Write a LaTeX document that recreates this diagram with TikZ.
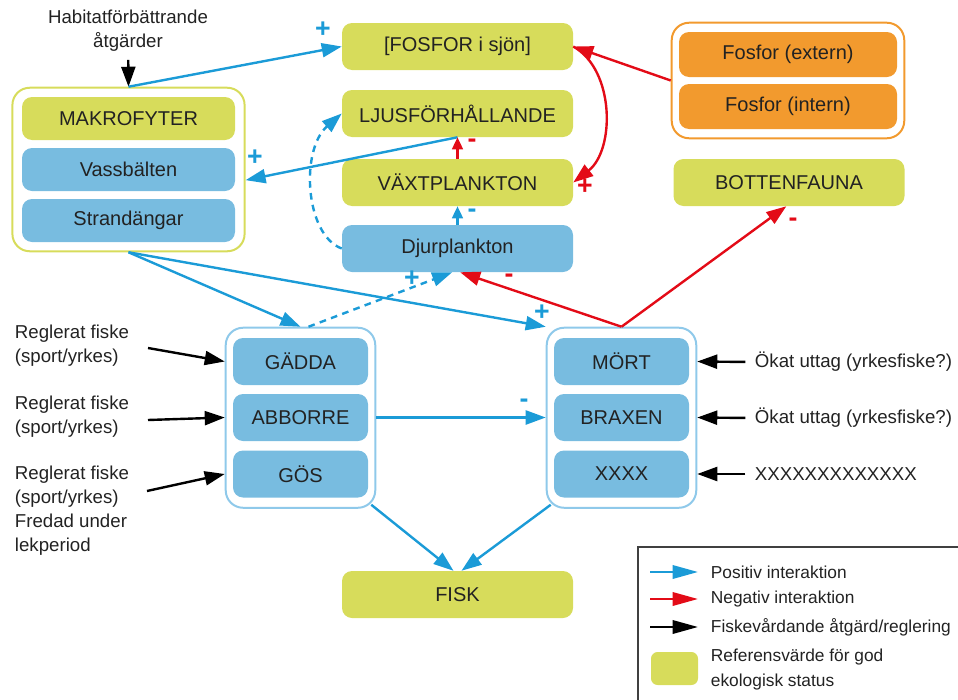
\documentclass[tikz,border=0pt]{standalone}
\usepackage{fontspec}
\setmainfont{Liberation Sans}
\usetikzlibrary{positioning,fit,calc,arrows.meta}
\definecolor{refgreen}{HTML}{D7DC5B}
\definecolor{boxblue}{HTML}{78BCE0}
\definecolor{fosforange}{HTML}{F29A2E}
\definecolor{lineblue}{HTML}{1B9BD7}
\definecolor{linered}{HTML}{E30B17}
\definecolor{frameblue}{HTML}{8FC9EA}
\definecolor{ink}{HTML}{222222}

\begin{document}
\begin{tikzpicture}[x=0.75pt,y=-0.75pt,
    font=\fontsize{15}{18}\selectfont, text=ink,
    box/.style={rounded corners=7.5pt, minimum width=173.25pt, minimum height=35.25pt, inner sep=0pt},
    refbox/.style={box, fill=refgreen},
    bluebox/.style={box, fill=boxblue},
    makrobox/.style={box, minimum width=159.75pt, minimum height=32.25pt},
    fosbox/.style={box, fill=fosforange, minimum width=163.5pt, minimum height=33.75pt},
    fishbox/.style={box, fill=boxblue, minimum width=101.25pt},
    groupframe/.style={rounded corners=13pt, line width=1.5pt, inner sep=0pt},
    note/.style={font=\fontsize{14}{18}\selectfont, inner sep=2pt},
    legnote/.style={note, font=\fontsize{13}{18.75}\selectfont},
    sign/.style={font=\bfseries\fontsize{20}{20}\selectfont, inner sep=0pt},
    posarrow/.style={draw=lineblue, line width=1.8pt, arrows={-Triangle[length=15pt,width=10.5pt]}},
    negarrow/.style={posarrow, draw=linered},
    fixarrow/.style={posarrow, draw=black},
    shortarrow/.style={arrows={-Triangle[length=9pt,width=8pt]}},
    legarrow/.style={arrows={-Triangle[length=19pt,width=10pt]}},
    dashline/.style={dash pattern=on 5pt off 4pt},
    legframe/.style={draw=black!75, line width=0.8pt}
  ]
  \useasboundingbox (0,0) rectangle (958,700);

  \node[refbox] (fosfor) at (457.5,46.5) {[FOSFOR i sjön]};
  \node[refbox] (ljus) at (457.5,113.5) {LJUSFÖRHÅLLANDE};
  \node[refbox] (vaxt) at (457.5,182.5) {VÄXTPLANKTON};
  \node[bluebox] (djur) at (457.5,248.5) {Djurplankton};
  \node[refbox] (fisk) at (457.5,594.5) {FISK};
  \node[refbox] (botten) at (789,182.5) {BOTTENFAUNA};

  \node[makrobox, fill=refgreen] (makro) at (128.5,118.5) {MAKROFYTER};
  \node[makrobox, fill=boxblue] (vass) at (128.5,169.5) {Vassbälten};
  \node[makrobox, fill=boxblue] (strand) at (128.5,220.5) {Strandängar};
  \node[groupframe, draw=refgreen, fit=(makro)(strand), inner xsep=7pt, inner ysep=6.75pt] (makrogrp) {};

  \node[fosbox] (extern) at (788,54.5) {Fosfor (extern)};
  \node[fosbox] (intern) at (788,106.5) {Fosfor (intern)};
  \node[groupframe, draw=fosforange, fit=(extern)(intern), inner xsep=5.25pt, inner ysep=6.75pt] (fosgrp) {};

  \node[fishbox] (gadda) at (300.5,361.5) {GÄDDA};
  \node[fishbox] (abborre) at (300.5,417.5) {ABBORRE};
  \node[fishbox] (gos) at (300.5,474) {GÖS};
  \node[groupframe, draw=frameblue, fit=(gadda)(gos), inner xsep=5.25pt, inner ysep=7.5pt] (rovfisk) {};

  \node[fishbox] (mort) at (621.5,361.5) {MÖRT};
  \node[fishbox] (braxen) at (621.5,417.5) {BRAXEN};
  \node[fishbox] (xxxx) at (621.5,474) {XXXX};
  \node[groupframe, draw=frameblue, fit=(mort)(xxxx), inner xsep=5.25pt, inner ysep=7.5pt] (vitfisk) {};

  \node[note, align=center] (habitat) at (128,31) {Habitatförbättrande\\åtgärder};
  \node[note, align=left, anchor=west] (regl1) at (12,345.5) {Reglerat fiske\\(sport/yrkes)};
  \node[note, align=left, anchor=west] (regl2) at (12,417) {Reglerat fiske\\(sport/yrkes)};
  \node[note, align=left, anchor=west] (regl3) at (12,511) {Reglerat fiske\\(sport/yrkes)\\Fredad under\\lekperiod};
  \node[note, anchor=west] (okat1) at (752,362) {Ökat uttag (yrkesfiske?)};
  \node[note, anchor=west] (okat2) at (752,418) {Ökat uttag (yrkesfiske?)};
  \node[note, anchor=west] (okat3) at (752,474) {XXXXXXXXXXXXX};

  \coordinate (r1) at (148,348);
  \coordinate (r2) at (148,420);
  \coordinate (r3) at (147,491);

  \draw[fixarrow, shorten <=4pt] (habitat) -- (makrogrp.north);
  \draw[posarrow] (makrogrp.north) -- (fosfor.west);
  \draw[posarrow] (ljus.south) -- ([yshift=-8pt]makrogrp.east);
  \draw[negarrow, shortarrow] (vaxt.north) -- (ljus.south);
  \draw[posarrow, shortarrow] (djur.north) -- (vaxt.south);
  \draw[posarrow, dashline] (djur.west) .. controls (305,235) and (300,150) .. (ljus.west);
  \draw[negarrow] (fosgrp.west) -- (fosfor.east);
  \draw[negarrow] (fosfor.east) .. controls (615,70) and (615,150) .. (vaxt.east);
  \draw[posarrow] (makrogrp.south) -- (rovfisk.north);
  \draw[posarrow] (makrogrp.south) -- (vitfisk.north west);
  \draw[posarrow, dashline] ([xshift=6pt]rovfisk.north) -- ([xshift=-4pt]djur.south);
  \draw[negarrow] (vitfisk.north) -- ([xshift=2pt]djur.south);
  \draw[negarrow] (vitfisk.north) -- ([xshift=-2pt]botten.south);
  \draw[posarrow] (rovfisk.east |- abborre) -- (vitfisk.west |- braxen);
  \draw[posarrow] ($(rovfisk.south east)+(-5,-4)$) -- ([xshift=-3pt]fisk.north);
  \draw[posarrow] ($(vitfisk.south west)+(5,-4)$) -- ([xshift=3pt]fisk.north);

  \draw[fixarrow] (r1) -- (rovfisk.west |- gadda);
  \draw[fixarrow] (r2) -- (rovfisk.west |- abborre);
  \draw[fixarrow] (r3) -- (rovfisk.west |- gos);
  \draw[fixarrow, shorten <=5pt] (okat1.west) -- (vitfisk.east |- mort);
  \draw[fixarrow, shorten <=5pt] (okat2.west) -- (vitfisk.east |- braxen);
  \draw[fixarrow, shorten <=5pt] (okat3.west) -- (vitfisk.east |- xxxx);

  \node[sign, text=lineblue] (s1) at (323,30) {+};
  \node[sign, text=lineblue] (s2) at (255,158) {+};
  \node[sign, text=linered] (s3) at (472,143) {-};
  \node[sign, text=lineblue] (s4) at (472,213) {-};
  \node[sign, text=linered] (s5) at (585,187) {+};
  \node[sign, text=lineblue] (s6) at (412,279) {+};
  \node[sign, text=linered] (s7) at (509,278) {-};
  \node[sign, text=lineblue] (s8) at (542,313) {+};
  \node[sign, text=linered] (s9) at (793,222) {-};
  \node[sign, text=lineblue] (s10) at (524,403) {-};

  \draw[legframe] (638,547) rectangle (965,710);
  \coordinate (lp0) at (650,572);
  \coordinate (lp1) at (698,572);
  \coordinate (ln0) at (650,599);
  \coordinate (ln1) at (698,599);
  \coordinate (lf0) at (650,627);
  \coordinate (lf1) at (698,627);
  \draw[posarrow, legarrow] (lp0) -- (lp1);
  \draw[negarrow, legarrow] (ln0) -- (ln1);
  \draw[fixarrow, legarrow] (lf0) -- (lf1);
  \node[legnote, anchor=west] (legpos) at (708,572) {Positiv interaktion};
  \node[legnote, anchor=west] (legneg) at (708,599) {Negativ interaktion};
  \node[legnote, anchor=west] (legfix) at (708,627) {Fiskevårdande åtgärd/reglering};
  \node[fill=refgreen, rounded corners=5pt, minimum width=35.25pt, minimum height=24.75pt, inner sep=0pt] (legref) at (674.5,668.5) {};
  \node[legnote, anchor=west, align=left] (legreftext) at (708,669.5) {Referensvärde för god\\ekologisk status};
\end{tikzpicture}
\end{document}
